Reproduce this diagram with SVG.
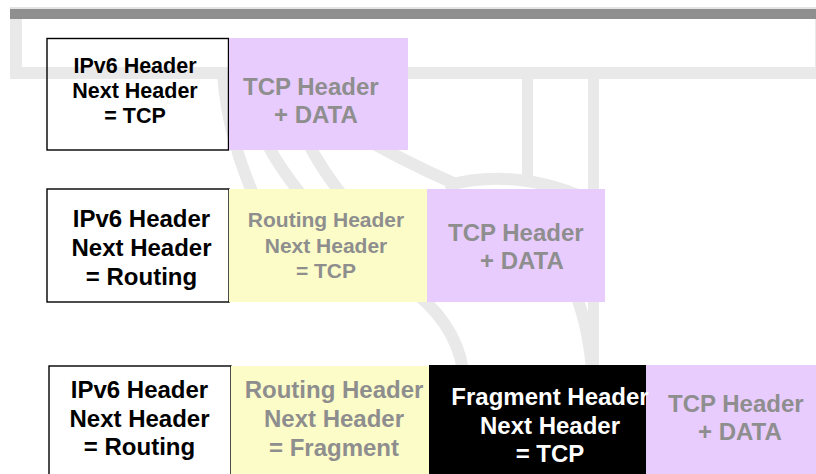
<svg xmlns="http://www.w3.org/2000/svg" width="816" height="474" viewBox="0 0 816 474">
<style>
  .bg{fill:#e9e9e9}
  .arc{fill:none;stroke:#e9e9e9;stroke-width:12}
  text{font-family:"Liberation Sans",Arial,Helvetica,sans-serif;font-weight:bold}
  .box{fill:none;stroke:#000;stroke-width:1.4}
  .tcp{fill:#e8ccfe}
  .rt{fill:#fcfcc8}
  .frag{fill:#000}
  .tb{fill:#000}
  .tg{fill:#8e8e8e}
  .tw{fill:#fff}
  .c{text-anchor:middle}
  .f24{font-size:24px}
  .f21{font-size:21px}
</style>
<rect width="816" height="474" fill="#fff"/>
<g id="background">
  <rect x="10" y="7" width="806" height="2" fill="#e4e4e4"/>
  <rect x="10" y="9" width="806" height="10" fill="#8f8f8f"/>
  <path class="bg" fill-rule="evenodd" d="M10 19 H816 V79 H10 Z M22 19 V67 H815 V19 Z"/>
  <rect class="bg" x="522" y="79" width="11" height="100"/>
  <rect class="bg" x="588" y="79" width="11" height="290"/>
  <path class="arc" d="M223 75 Q228 140 258 205"/>
  <path class="arc" d="M248 79 Q250 135 310 205"/>
  <path class="arc" d="M290 79 Q292 135 350 205"/>
  <path class="arc" d="M350 130 Q400 160 460 186"/>
  <path class="arc" d="M445 186 Q520 165 600 205"/>
  <path class="arc" d="M405 285 Q455 320 463 370"/>
  <path class="arc" d="M570 280 Q588 320 592 370"/>
</g>
<g id="connectors"/>

<g id="row1-ipv6">
  <rect class="box" x="47" y="38.5" width="181.5" height="111.5"/>
  <text class="tb c" x="135" y="73" font-size="21.5">IPv6 Header</text>
  <text class="tb c" x="135" y="98" font-size="21.5">Next Header</text>
  <text class="tb c" x="135" y="123" font-size="21.5">= TCP</text>
</g>
<g id="row1-tcp">
  <rect class="tcp" x="229" y="38" width="179" height="112"/>
  <text class="tg f24" x="243" y="95">TCP Header</text>
  <text class="tg f24" x="274" y="123">+ DATA</text>
</g>

<g id="row2-ipv6">
  <rect class="box" x="47" y="189" width="182" height="113"/>
  <text class="tb c f24" x="141.5" y="227">IPv6 Header</text>
  <text class="tb c f24" x="141.5" y="256">Next Header</text>
  <text class="tb c f24" x="141.5" y="285">= Routing</text>
</g>
<g id="row2-routing">
  <rect class="rt" x="229" y="189" width="198" height="113"/>
  <text class="tg c f21" x="326" y="227">Routing Header</text>
  <text class="tg c f21" x="326" y="253">Next Header</text>
  <text class="tg c f21" x="326" y="278">= TCP</text>
</g>
<g id="row2-tcp">
  <rect class="tcp" x="427" y="189" width="178" height="113"/>
  <text class="tg f24" x="448" y="241">TCP Header</text>
  <text class="tg f24" x="480" y="269">+ DATA</text>
</g>

<g id="row3-ipv6">
  <rect class="box" x="49" y="366" width="182" height="120"/>
  <text class="tb c f24" x="139.5" y="398">IPv6 Header</text>
  <text class="tb c f24" x="139.5" y="427">Next Header</text>
  <text class="tb c f24" x="139.5" y="455">= Routing</text>
</g>
<g id="row3-routing">
  <rect class="rt" x="231" y="366" width="198" height="120"/>
  <text class="tg c f24" x="334" y="398">Routing Header</text>
  <text class="tg c f24" x="334" y="427">Next Header</text>
  <text class="tg c f24" x="334" y="456">= Fragment</text>
</g>
<g id="row3-tcp">
  <rect class="tcp" x="646" y="365" width="170" height="120"/>
  <text class="tg f24" x="668" y="412">TCP Header</text>
  <text class="tg f24" x="698" y="440">+ DATA</text>
</g>
<g id="row3-fragment">
  <rect class="frag" x="429" y="365" width="217" height="120"/>
  <text class="tw c f24" x="550" y="405">Fragment Header</text>
  <text class="tw c f24" x="550" y="434">Next Header</text>
  <text class="tw c f24" x="550" y="462">= TCP</text>
</g>
</svg>
